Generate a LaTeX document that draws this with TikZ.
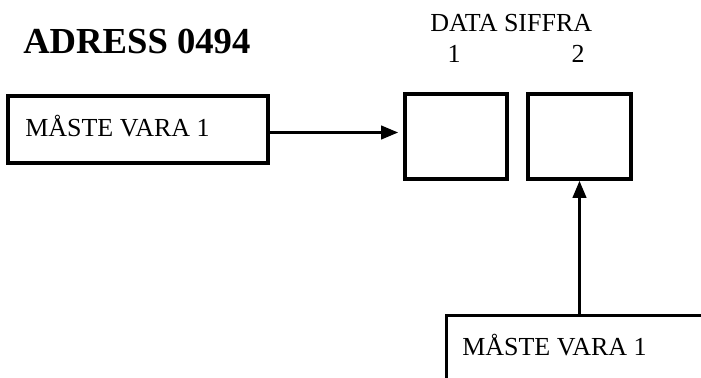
\documentclass[tikz,border=0pt]{standalone}
\usepackage{fontspec}
\setmainfont{Liberation Serif}
\usetikzlibrary{arrows.meta}

\begin{document}
\begin{tikzpicture}[x=0.75pt,y=-0.75pt,
  reg/.style={draw, line width=2.5pt, minimum width=76.5pt, minimum height=63.75pt, inner sep=0pt},
  ram/.style={draw, line width=2.5pt, inner sep=0pt},
  lbl/.style={anchor=base west, inner sep=0pt, font=\fontsize{19.5}{22}\selectfont},
  pil/.style={line width=2.5pt, -{Triangle[length=13pt,width=10pt]}}]
\useasboundingbox (0,0) rectangle (701,378);
\clip (0,0) rectangle (701,378);

\node[lbl, font=\bfseries\fontsize{27.5}{30}\selectfont] (title) at (23,54) {ADRESS 0494};

% vänstra rutan
\node[ram, minimum width=195pt, minimum height=50.25pt] (src) at (138,129.5) {};
\node[lbl] (srctext) at (25,137) {MÅSTE VARA 1};

% datasiffrorna
\node[lbl] (head) at (430,32) {DATA SIFFRA};
\node[lbl, anchor=base] (num1) at (454,63) {1};
\node[lbl, anchor=base] (num2) at (578,63) {2};
\node[reg] (reg1) at (456,136.5) {};
\node[reg, minimum width=77.25pt] (reg2) at (579.5,136.5) {};

% nedre rutan, går utanför bilden
\node[ram, anchor=north west, minimum width=225pt, minimum height=75pt] (dst) at (445,314) {};
\node[lbl] (dsttext) at (462,355) {MÅSTE VARA 1};

\coordinate (srcout) at ([yshift=-2.25pt]src.east);
\draw[pil, shorten >=3.75pt] (srcout) -- (srcout -| reg1.west);
\draw[pil] (dst.north -| reg2.south) -- (reg2.south);

\end{tikzpicture}
\end{document}
